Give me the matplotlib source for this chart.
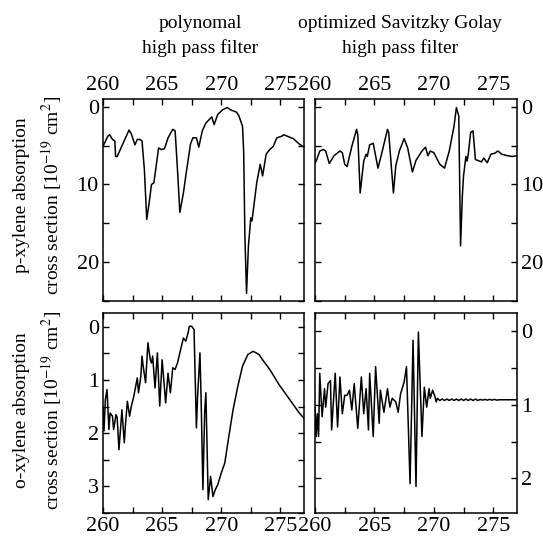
import matplotlib
matplotlib.use('Agg')
import matplotlib.pyplot as plt
from matplotlib.ticker import MultipleLocator

plt.rcParams['font.family'] = ['Liberation Serif', 'DejaVu Serif']
plt.rcParams['mathtext.fontset'] = 'stix'

# p-xylene, polynomal high pass filter
px_poly_x = [260.0, 260.4, 260.56, 260.8, 261.0, 261.07, 261.2, 262.2, 262.4, 262.7, 262.9, 263.1,
             263.3, 263.5, 263.7, 263.9, 264.1, 264.3, 264.5, 264.7, 264.9, 265.2, 265.5, 265.9,
             266.1, 266.3, 266.5, 266.8, 267.0, 267.4, 267.6, 267.9, 268.1, 268.4, 268.7, 269.2,
             269.4, 269.7, 270.1, 270.5, 270.8, 271.3, 271.5, 271.8, 271.9, 272.0, 272.14, 272.3,
             272.5, 272.6, 273.0, 273.3, 273.5, 273.8, 274.1, 274.4, 274.7, 275.1, 275.3, 275.6,
             276.1, 276.6, 277.0]
px_poly_y = [5.1, 3.8, 3.6, 4.2, 4.4, 6.4, 6.4, 3.0, 3.5, 4.9, 4.2, 4.2,
             4.4, 8.1, 14.5, 12.4, 10.0, 9.8, 7.6, 5.3, 5.5, 5.4, 4.0, 2.9,
             3.1, 8.1, 13.6, 11.1, 8.9, 4.8, 4.0, 4.0, 5.2, 3.1, 2.1, 1.3,
             2.3, 1.0, 0.4, 0.1, 0.4, 0.7, 1.2, 2.5, 5.9, 16.6, 24.0, 17.9,
             14.3, 14.7, 9.8, 7.4, 8.9, 6.1, 5.5, 5.1, 4.0, 3.8, 3.6, 3.8,
             4.1, 4.8, 5.2]

# p-xylene, optimized Savitzky Golay high pass filter
px_sg_x = [260.0, 260.1, 260.4, 260.7, 260.9, 261.2, 261.6, 262.1, 262.3, 262.5, 262.7, 263.1,
           263.5, 263.6, 263.8, 264.1, 264.3, 264.4, 264.6, 264.9, 265.3, 265.6, 266.1, 266.2,
           266.6, 266.8, 267.1, 267.5, 267.8, 268.2, 268.5, 269.0, 269.3, 269.5, 269.7, 270.0,
           270.5, 270.9, 271.3, 271.7, 271.9, 272.1, 272.25, 272.4, 272.5, 272.7, 272.8, 272.9,
           273.1, 273.3, 273.5, 273.7, 274.0, 274.2, 274.5, 274.8, 275.1, 275.4, 275.7, 276.2,
           276.6, 277.0]
px_sg_y = [7.2, 7.0, 5.7, 5.5, 5.7, 7.3, 6.3, 5.7, 5.9, 7.4, 7.7, 5.1,
           2.9, 3.6, 11.1, 7.0, 6.1, 6.4, 4.9, 4.7, 7.9, 6.1, 2.9, 3.3,
           11.1, 7.6, 5.7, 4.1, 5.3, 8.4, 6.9, 5.7, 5.2, 6.3, 5.7, 5.9,
           7.4, 7.9, 5.7, 2.5, 0.1, 1.2, 17.9, 11.5, 8.9, 6.4, 7.0, 6.1,
           3.3, 3.1, 6.8, 6.9, 7.1, 6.6, 7.2, 6.1, 6.0, 5.7, 6.1, 6.3,
           6.4, 6.3]

# o-xylene, polynomal high pass filter
ox_poly_x = [260.0, 260.08, 260.2, 260.34, 260.5, 260.6, 260.8, 260.9, 261.1, 261.2, 261.35, 261.6,
             261.8, 261.9, 262.06, 262.25, 262.4, 262.6, 262.9, 263.0, 263.2, 263.3, 263.4, 263.6,
             263.8, 264.0, 264.1, 264.2, 264.4, 264.6, 264.8, 265.0, 265.3, 265.5, 265.7, 265.9,
             266.1, 266.3, 266.5, 266.8, 267.0, 267.2, 267.3, 267.5, 267.7, 267.9, 268.0, 268.2,
             268.3, 268.45, 268.6, 268.7, 268.9, 269.1, 269.3, 269.5, 269.7, 270.0, 270.3, 270.6,
             271.0, 271.4, 271.8, 272.25, 272.7, 272.95, 273.2, 273.5, 274.1, 274.9, 275.8, 276.6,
             277.0]
ox_poly_y = [1.5, 1.96, 1.37, 1.18, 1.93, 1.62, 1.68, 1.93, 1.65, 1.71, 2.31, 1.56,
             2.18, 1.84, 1.4, 1.68, 1.49, 1.31, 0.96, 1.24, 0.93, 0.55, 0.74, 1.05,
             0.30, 0.62, 0.68, 0.55, 1.15, 0.49, 1.49, 0.62, 1.43, 0.87, 1.24, 0.77,
             0.80, 0.68, 0.49, 0.21, 0.27, 0.11, -0.01, -0.01, 0.05, 1.9, 1.31, 0.49,
             1.37, 3.06, 1.6, 1.24, 3.25, 2.81, 3.19, 3.06, 2.97, 2.75, 2.56, 2.12,
             1.56, 1.12, 0.74, 0.52, 0.46, 0.49, 0.52, 0.62, 0.80, 1.09, 1.37, 1.62,
             1.72]

# o-xylene, optimized Savitzky Golay high pass filter
ox_sg_x = [260.0, 260.1, 260.2, 260.3, 260.4, 260.6, 260.8, 260.9, 261.1, 261.3, 261.4, 261.7,
           261.9, 262.1, 262.3, 262.5, 262.7, 262.9, 263.1, 263.3, 263.6, 263.9, 264.1, 264.3,
           264.5, 264.6, 264.9, 265.1, 265.4, 265.5, 265.8, 266.1, 266.3, 266.5, 266.8, 267.0,
           267.2, 267.5, 267.7, 268.0, 268.25, 268.5, 268.7, 269.0, 269.2, 269.4, 269.6, 269.7,
           269.9, 270.1, 270.2, 270.3, 270.5, 270.7, 270.9, 271.1, 271.3, 271.5, 271.7, 271.9,
           272.1, 272.3, 272.5, 272.7, 272.9, 273.1, 273.3, 273.5, 273.7, 273.9, 274.1, 274.3,
           274.5, 274.7, 274.9, 275.1, 275.3, 275.5, 275.7, 275.9, 276.1, 276.3, 276.5, 276.7,
           277.0]
ox_sg_y = [1.0, 1.43, 1.12, 1.43, 0.57, 1.16, 0.78, 1.03, 0.71, 0.67, 1.34, 0.57,
           1.30, 0.62, 1.12, 0.87, 0.87, 0.80, 1.07, 0.71, 1.32, 0.62, 1.12, 0.78,
           1.34, 0.57, 1.43, 0.48, 1.25, 0.80, 1.10, 0.78, 1.03, 0.91, 0.96, 1.10,
           0.85, 0.69, 0.48, 2.07, 0.12, 2.11, 0.01, 1.43, 0.76, 1.03, 0.78, 0.91,
           0.80, 0.89, 0.96, 0.91, 0.94, 0.92, 0.94, 0.92, 0.94, 0.92, 0.94, 0.92,
           0.94, 0.92, 0.94, 0.92, 0.94, 0.92, 0.94, 0.92, 0.94, 0.925, 0.935, 0.925,
           0.935, 0.925, 0.935, 0.925, 0.935, 0.93, 0.93, 0.93, 0.93, 0.93, 0.93, 0.93,
           0.93]

W, H = 543, 536


def rect(x0, y0, x1, y1):
    return [x0 / W, 1 - y1 / H, (x1 - x0) / W, (y1 - y0) / H]


def style(ax, ylim, ymaj, ymin, top, right):
    ax.set_xlim(260, 277)
    ax.set_ylim(*ylim)
    ax.xaxis.set_major_locator(MultipleLocator(5))
    ax.xaxis.set_minor_locator(MultipleLocator(2.5))
    ax.yaxis.set_major_locator(MultipleLocator(ymaj))
    ax.yaxis.set_minor_locator(MultipleLocator(ymin))
    ax.tick_params(which='both', direction='in', top=True, bottom=True, left=True, right=True,
                   labeltop=top, labelbottom=not top, labelleft=not right, labelright=right,
                   labelsize=16, width=1.0, length=4, pad=3)
    for s in ax.spines.values():
        s.set_linewidth(1.1)


fig = plt.figure(figsize=(W / 100, H / 100), dpi=100)

ax1 = fig.add_axes(rect(103, 99, 304, 301))
ax1.plot(px_poly_x, px_poly_y, color='black', lw=1.1)
style(ax1, (25, -1), 10, 5, True, False)

ax2 = fig.add_axes(rect(315, 99, 517, 301))
ax2.plot(px_sg_x, px_sg_y, color='black', lw=1.1)
style(ax2, (25, -1), 10, 5, True, True)

ax3 = fig.add_axes(rect(103, 313, 304, 513))
ax3.plot(ox_poly_x, ox_poly_y, color='black', lw=1.1)
style(ax3, (3.5, -0.26), 1, 0.5, False, False)

ax4 = fig.add_axes(rect(315, 313, 517, 513))
ax4.plot(ox_sg_x, ox_sg_y, color='black', lw=1.1)
style(ax4, (2.47, -0.25), 1, 0.5, False, True)

fig.text(200 / W, 1 - 36 / H, 'polynomal\nhigh pass filter', ha='center', va='center',
         fontsize=14, linespacing=1.5)
fig.text(400 / W, 1 - 36 / H, 'optimized Savitzky Golay\nhigh pass filter', ha='center',
         va='center', fontsize=14, linespacing=1.5)

fig.text(22 / W, 1 - 195 / H, 'p-xylene absorption', rotation=90, ha='center', va='center',
         fontsize=14)
fig.text(52 / W, 1 - 195 / H, r'cross section [10$^{-19}$ cm$^2$]', rotation=90, ha='center',
         va='center', fontsize=14)
fig.text(22 / W, 1 - 410 / H, 'o-xylene absorption', rotation=90, ha='center', va='center',
         fontsize=14)
fig.text(52 / W, 1 - 410 / H, r'cross section [10$^{-19}$ cm$^2$]', rotation=90, ha='center',
         va='center', fontsize=14)

fig.savefig('out.png', dpi=100)
